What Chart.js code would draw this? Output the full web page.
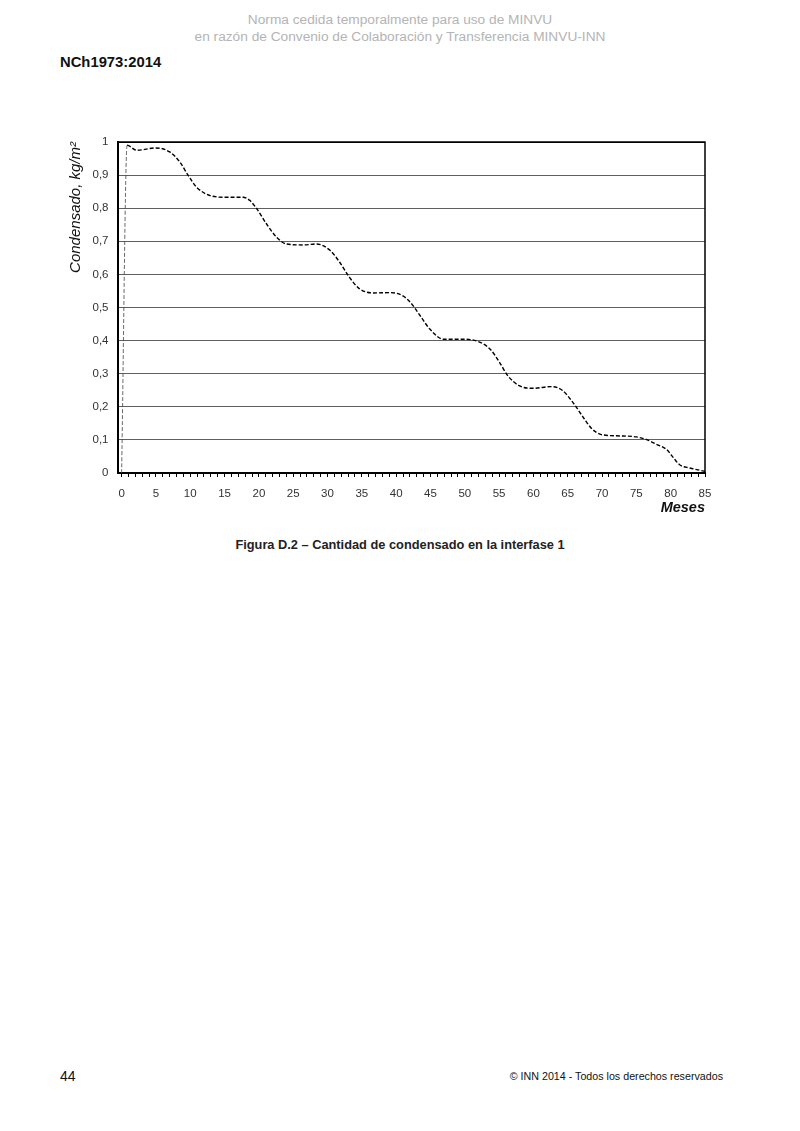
<!DOCTYPE html>
<html>
<head>
<meta charset="utf-8">
<script src="https://cdn.jsdelivr.net/npm/chart.js@4/dist/chart.umd.min.js"></script>
<style>
  html, body { margin: 0; padding: 0; background: #fff; }
  body { width: 800px; height: 1131px; position: relative; font-family: "Liberation Sans", Arial, sans-serif; }
  .hdr { position: absolute; left: 0; width: 800px; text-align: center; color: #b4b4b4; font-size: 13.7px; }
  #std { position: absolute; left: 60px; top: 54px; font-size: 14.8px; font-weight: bold; color: #111; }
  #cap { position: absolute; left: 0; width: 800px; top: 537px; text-align: center; font-size: 12.8px; font-weight: bold; color: #222; }
  #pg { position: absolute; left: 60px; top: 1068px; font-size: 14px; color: #111; }
  #copy { position: absolute; right: 77px; top: 1070px; font-size: 10.7px; color: #111; }
  #wrap { position: absolute; left: 60px; top: 120px; width: 670px; height: 410px; }
</style>
</head>
<body>
<div class="hdr" style="top:12px">Norma cedida temporalmente para uso de MINVU</div>
<div class="hdr" style="top:29px">en razón de Convenio de Colaboración y Transferencia MINVU-INN</div>
<div id="std">NCh1973:2014</div>
<div id="wrap"><canvas id="c"></canvas></div>
<div id="cap">Figura D.2 – Cantidad de condensado en la interfase 1</div>
<div id="pg">44</div>
<div id="copy">© INN 2014 - Todos los derechos reservados</div>
<script>
const months = [0, 0.8, 2.2, 5.0, 7.0, 8.5, 9.7, 10.9, 12.9, 15.3, 17.7, 18.7, 19.7, 21.1, 22.6, 24.0, 26.5, 28.4, 30.4, 31.8, 33.2, 34.7, 36.7, 39.1, 41.0, 42.3, 43.5, 44.9, 46.9, 49.8, 51.7, 53.7, 55.1, 56.3, 58.0, 60.0, 62.6, 64.2, 65.8, 67.3, 68.5, 69.9, 72.6, 75.0, 76.5, 78.0, 79.4, 80.4, 81.3, 82.8, 85];
const condensado = [0, 0.99, 0.975, 0.982, 0.970, 0.939, 0.899, 0.864, 0.838, 0.833, 0.833, 0.823, 0.798, 0.753, 0.712, 0.692, 0.689, 0.692, 0.672, 0.636, 0.591, 0.556, 0.544, 0.545, 0.535, 0.510, 0.475, 0.435, 0.404, 0.404, 0.399, 0.374, 0.333, 0.293, 0.263, 0.256, 0.261, 0.250, 0.212, 0.167, 0.134, 0.116, 0.112, 0.109, 0.101, 0.086, 0.071, 0.046, 0.025, 0.015, 0.005];
const xTickLabels = ['0','5','10','15','20','25','30','35','40','45','50','55','60','65','70','75','80','85'];
const yTickLabels = ['0','0,1','0,2','0,3','0,4','0,5','0,6','0,7','0,8','0,9','1'];

const points = months.map((m, i) => ({ x: m, y: condensado[i] }));

const frame = {
  id: 'frame',
  afterDatasetsDraw(chart) {
    const a = chart.chartArea, ctx = chart.ctx;
    ctx.save();
    ctx.strokeStyle = '#000';
    ctx.lineWidth = 1.5;
    ctx.beginPath();
    ctx.moveTo(a.left, a.top); ctx.lineTo(a.right, a.top); ctx.lineTo(a.right, a.bottom);
    ctx.stroke();
    ctx.restore();
  }
};

const FONT = '"Liberation Sans", Arial, sans-serif';

new Chart(document.getElementById('c'), {
  type: 'line',
  data: {
    datasets: [{
      data: points,
      borderColor: '#000',
      borderWidth: 1.4,
      borderDash: [4, 2],
      pointRadius: 0,
      fill: false,
      cubicInterpolationMode: 'monotone',
      segment: {
        borderWidth: (ctx) => (ctx.p0DataIndex === 0 ? 0.8 : 1.4),
        borderColor: (ctx) => (ctx.p0DataIndex === 0 ? '#444' : '#000')
      }
    }]
  },
  options: {
    responsive: true,
    maintainAspectRatio: false,
    animation: false,
    layout: { padding: { top: 22, right: 25, left: 0, bottom: 13 } },
    plugins: { legend: { display: false }, tooltip: { enabled: false } },
    scales: {
      x: {
        type: 'linear',
        min: -0.6,
        max: 85,
        afterFit(s) { s.height = 44; },
        border: { color: '#000', width: 2 },
        grid: { drawOnChartArea: false, drawTicks: true, tickLength: 4, color: '#000' },
        ticks: {
          stepSize: 1,
          includeBounds: false,
          autoSkip: false,
          maxRotation: 0,
          padding: 10,
          color: '#333',
          font: { family: FONT, size: 11.5 },
          callback: (v) => (v % 5 === 0 ? xTickLabels[v / 5] : '')
        },
        title: {
          display: true,
          text: 'Meses',
          align: 'end',
          color: '#111',
          padding: { top: 0, bottom: 0 },
          font: { family: FONT, size: 14.5, style: 'italic', weight: 'bold' }
        }
      },
      y: {
        min: 0,
        max: 1,
        afterFit(s) { s.width = 57.5; },
        border: { color: '#000', width: 2 },
        grid: { drawTicks: false, color: (c) => (c.tick.value === 1 ? '#000' : '#606060'), lineWidth: 1 },
        ticks: {
          stepSize: 0.1,
          padding: 9,
          color: '#333',
          font: { family: FONT, size: 11.5 },
          callback: (v) => yTickLabels[Math.round(v * 10)]
        },
        title: {
          display: true,
          text: 'Condensado, kg/m²',
          align: 'end',
          color: '#111',
          padding: { top: 7, bottom: 4 },
          font: { family: FONT, size: 15, style: 'italic' }
        }
      }
    }
  },
  plugins: [frame]
});
</script>
</body>
</html>
